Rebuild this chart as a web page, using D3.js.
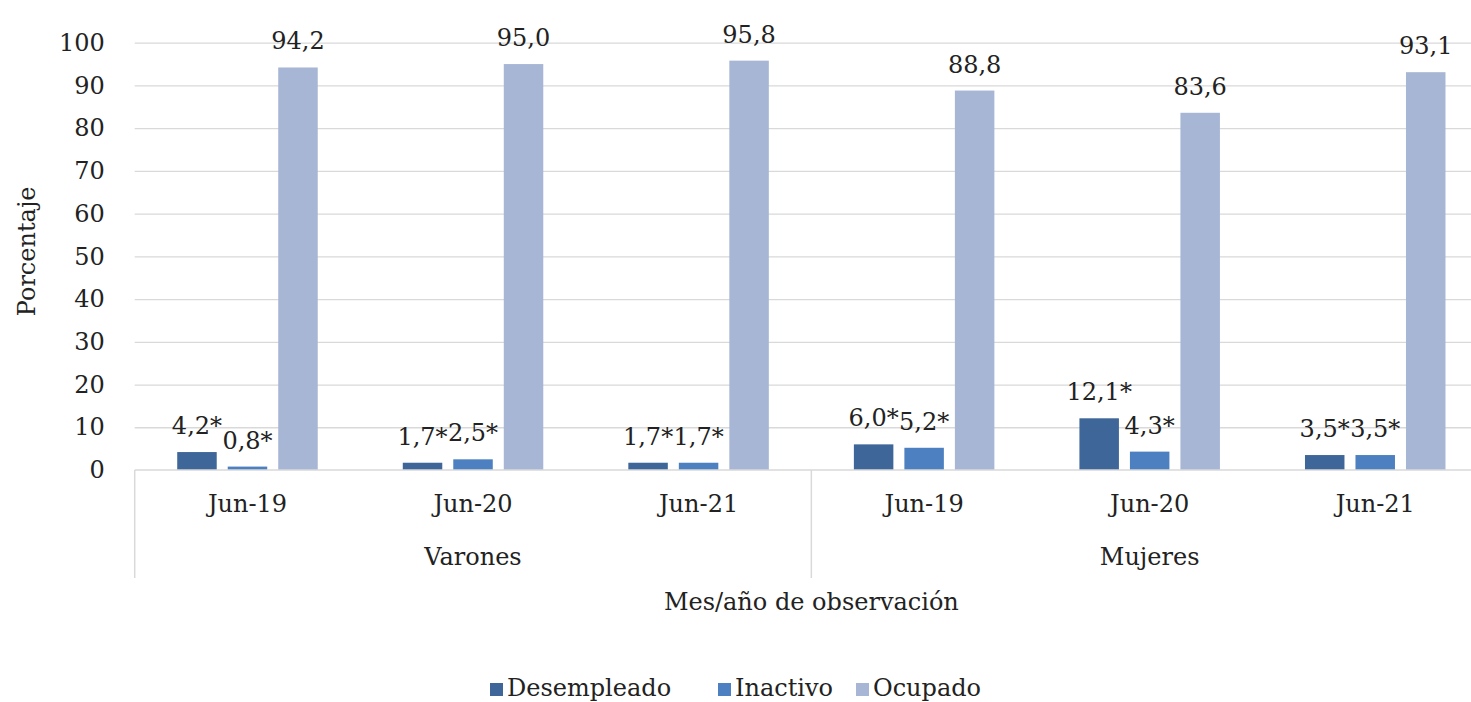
<!DOCTYPE html>
<html>
<head>
<meta charset="utf-8">
<script src="https://cdn.jsdelivr.net/npm/d3@7"></script>
<style>
  body { margin: 0; background: #fff; }
  svg { display: block; font-family: "DejaVu Serif", "Liberation Serif", serif; }
  .axis path { display: none; }
  .axis text { fill: #222; font-size: 24px; font-family: "DejaVu Serif", "Liberation Serif", serif; }
  .grid line { stroke: #d9d9d9; stroke-width: 1.3; }
  .grid path { display: none; }
  .bar-label { fill: #222; font-size: 24px; text-anchor: middle; }
  .title { fill: #222; font-size: 24px; text-anchor: middle; }
</style>
</head>
<body>
<div id="chart"></div>
<script>
// data
const groups = ['Varones', 'Mujeres'];
const months = ['Jun-19', 'Jun-20', 'Jun-21'];
const seriesNames = ['Desempleado', 'Inactivo', 'Ocupado'];
const desempleado = [4.2, 1.7, 1.7, 6.0, 12.1, 3.5];
const inactivo = [0.8, 2.5, 1.7, 5.2, 4.3, 3.5];
const ocupado = [94.2, 95.0, 95.8, 88.8, 83.6, 93.1];
const starred = [true, true, false];  // "*" after the label
const yTicks = [0, 10, 20, 30, 40, 50, 60, 70, 80, 90, 100];
const colors = ['#3e6698', '#4d80c0', '#a6b6d4'];

const width = 1471, height = 702;
const plot = { left: 134.7, right: 1488, top: 42.7, bottom: 470 };

// one row per category: group + month
const rows = [];
groups.forEach((g, gi) => months.forEach((m, mi) => {
  const i = gi * months.length + mi;
  rows.push({ id: i, group: g, month: m, values: [desempleado[i], inactivo[i], ocupado[i]] });
}));

const svg = d3.select('#chart').append('svg')
  .attr('width', width)
  .attr('height', height);

const x0 = d3.scaleBand()
  .domain(rows.map(d => d.id))
  .range([plot.left, plot.right])
  .padding(0);

const x1 = d3.scaleBand()
  .domain(d3.range(seriesNames.length))
  .range([x0.bandwidth() / 2 - 70.25, x0.bandwidth() / 2 + 70.25])
  .paddingInner(0.218);

const y = d3.scaleLinear()
  .domain([0, 100])
  .range([plot.bottom, plot.top]);

// gridlines
svg.append('g')
  .attr('class', 'grid')
  .attr('transform', `translate(${plot.left},0)`)
  .call(d3.axisLeft(y).tickValues(yTicks.slice(1)).tickSize(-(plot.right - plot.left)).tickFormat(''));

// y axis labels
svg.append('g')
  .attr('class', 'axis y-axis')
  .attr('transform', `translate(${plot.left},0)`)
  .call(d3.axisLeft(y).tickValues(yTicks).tickSize(0).tickPadding(30));

// bars
const cat = svg.append('g').selectAll('g')
  .data(rows)
  .join('g')
  .attr('transform', d => `translate(${x0(d.id)},0)`);

cat.selectAll('rect')
  .data(d => d.values.map((v, k) => ({ v, k })))
  .join('rect')
  .attr('x', d => x1(d.k))
  .attr('width', x1.bandwidth())
  .attr('y', d => y(d.v))
  .attr('height', d => y(0) - y(d.v))
  .attr('fill', d => colors[d.k]);

cat.selectAll('text')
  .data(d => d.values.map((v, k) => ({ v, k })))
  .join('text')
  .attr('class', 'bar-label')
  .attr('x', d => x1(d.k) + x1.bandwidth() / 2)
  .attr('y', d => y(d.v) - 18)
  .text(d => d3.format('.1f')(d.v).replace('.', ',') + (starred[d.k] ? '*' : ''));

// x baseline
svg.append('line')
  .attr('x1', plot.left).attr('x2', plot.right)
  .attr('y1', y(0)).attr('y2', y(0))
  .attr('stroke', '#d9d9d9').attr('stroke-width', 1.5);

// month labels
svg.append('g')
  .attr('class', 'axis x-axis')
  .attr('transform', `translate(0,${plot.bottom})`)
  .call(d3.axisBottom(x0).tickSize(0).tickPadding(25).tickFormat(i => rows[i].month));

// group labels and separators
const groupW = x0.bandwidth() * months.length;
groups.forEach((g, gi) => {
  const gx = plot.left + gi * groupW;
  svg.append('text')
    .attr('class', 'title')
    .attr('x', gx + groupW / 2)
    .attr('y', 565)
    .text(g);
});
d3.range(groups.length + 1).forEach(gi => {
  const gx = plot.left + gi * groupW;
  svg.append('line')
    .attr('x1', gx).attr('x2', gx)
    .attr('y1', plot.bottom).attr('y2', 578)
    .attr('stroke', '#d9d9d9').attr('stroke-width', 1.5);
});

// axis titles
svg.append('text')
  .attr('class', 'title')
  .attr('x', (plot.left + plot.right) / 2)
  .attr('y', 610)
  .text('Mes/año de observación');

svg.append('text')
  .attr('class', 'title')
  .attr('transform', `translate(35,${(plot.top + plot.bottom) / 2 - 5}) rotate(-90)`)
  .text('Porcentaje');

// legend
const legendX = [490, 718, 856];
const legend = svg.append('g').selectAll('g')
  .data(seriesNames)
  .join('g')
  .attr('transform', (d, i) => `translate(${legendX[i]},683)`);

legend.append('rect')
  .attr('width', 13).attr('height', 13)
  .attr('fill', (d, i) => colors[i]);

legend.append('text')
  .attr('x', 17).attr('y', 13)
  .style('font-size', '24px')
  .attr('fill', '#222')
  .text(d => d);
</script>
</body>
</html>
